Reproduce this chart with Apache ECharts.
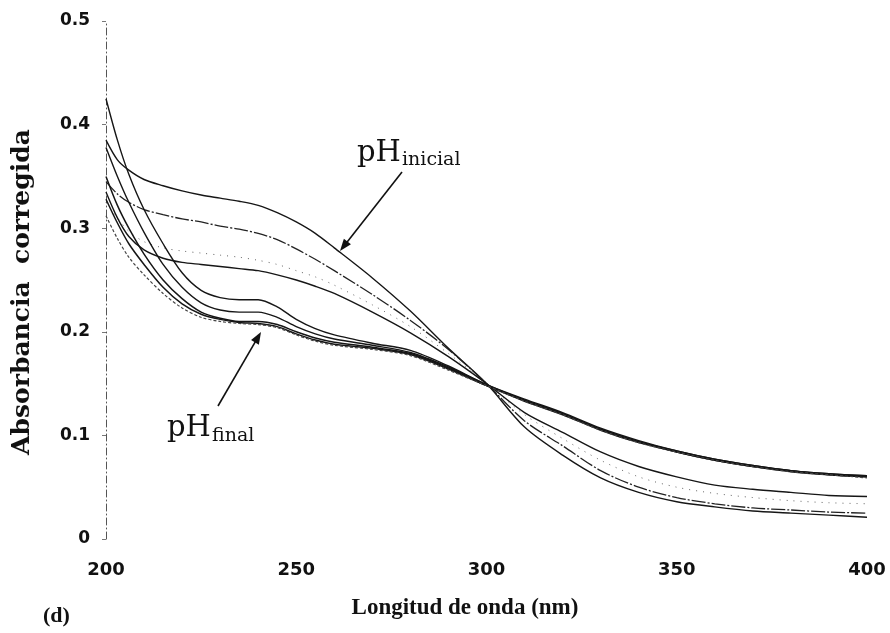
<!DOCTYPE html>
<html>
<head>
<meta charset="utf-8">
<script src="https://cdn.jsdelivr.net/npm/echarts@6/dist/echarts.min.js"></script>
<style>
html,body{margin:0;padding:0;background:#fff;}
#c{width:890px;height:633px;}
</style>
</head>
<body>
<div id="c"></div>
<script>
// Wavelength (nm)
var wavelengths = [200,203,206,210,215,220,225,230,235,240,245,250,255,260,270,280,290,300,310,320,330,340,350,360,370,380,390,400];
// Curves starting from initial pH (high plateau, low at 400 nm)
var inicial1 = [0.385,0.366,0.356,0.347,0.341,0.336,0.332,0.329,0.326,0.322,0.315,0.306,0.295,0.281,0.252,0.220,0.184,0.150,0.108,0.081,0.059,0.045,0.036,0.031,0.027,0.025,0.023,0.021];
var inicial2 = [0.345,0.333,0.325,0.318,0.313,0.309,0.306,0.302,0.299,0.295,0.289,0.280,0.270,0.259,0.236,0.211,0.183,0.150,0.114,0.090,0.066,0.050,0.040,0.034,0.030,0.028,0.026,0.025];
var inicial3 = [0.325,0.310,0.297,0.287,0.281,0.278,0.276,0.274,0.272,0.269,0.265,0.259,0.253,0.245,0.226,0.205,0.179,0.150,0.120,0.097,0.076,0.060,0.050,0.044,0.040,0.037,0.035,0.034];
var inicial4 = [0.335,0.310,0.292,0.279,0.271,0.267,0.265,0.263,0.261,0.259,0.255,0.250,0.244,0.237,0.219,0.199,0.176,0.150,0.122,0.103,0.084,0.070,0.060,0.052,0.048,0.045,0.042,0.041];
// Curves toward final pH (low plateau, high at 400 nm)
var final1 = [0.425,0.385,0.352,0.318,0.285,0.257,0.240,0.233,0.231,0.231,0.224,0.212,0.203,0.197,0.189,0.182,0.167,0.149,0.135,0.122,0.107,0.095,0.085,0.077,0.071,0.066,0.063,0.061];
var final2 = [0.378,0.350,0.325,0.296,0.265,0.243,0.228,0.221,0.219,0.219,0.214,0.205,0.198,0.193,0.187,0.180,0.166,0.149,0.134,0.121,0.106,0.094,0.084,0.076,0.070,0.066,0.062,0.060];
var final3 = [0.350,0.322,0.300,0.275,0.250,0.232,0.219,0.213,0.210,0.210,0.207,0.200,0.194,0.190,0.185,0.179,0.165,0.148,0.134,0.121,0.106,0.094,0.085,0.077,0.071,0.066,0.063,0.061];
var final4 = [0.328,0.305,0.285,0.265,0.243,0.227,0.217,0.212,0.209,0.208,0.205,0.198,0.192,0.188,0.184,0.178,0.164,0.148,0.133,0.120,0.105,0.093,0.084,0.076,0.070,0.065,0.062,0.060];
var final5 = [0.312,0.290,0.272,0.255,0.237,0.223,0.214,0.210,0.208,0.207,0.204,0.197,0.191,0.187,0.183,0.177,0.163,0.148,0.133,0.120,0.105,0.093,0.084,0.076,0.070,0.065,0.062,0.059];
// Tick labels
var xTicks = ['200','250','300','350','400'];
var yTicks = ['0','0.1','0.2','0.3','0.4','0.5'];

var curveDefs = [
  {name:'inicial1', data:inicial1, style:{color:'#161616', width:1.4, type:'solid'}},
  {name:'inicial2', data:inicial2, style:{color:'#222', width:1.3, type:[14,2,2,2]}},
  {name:'inicial3', data:inicial3, style:{color:'#666', width:1, type:[1,6]}},
  {name:'inicial4', data:inicial4, style:{color:'#161616', width:1.4, type:'solid'}},
  {name:'final1', data:final1, style:{color:'#161616', width:1.4, type:'solid'}},
  {name:'final2', data:final2, style:{color:'#161616', width:1.4, type:'solid'}},
  {name:'final3', data:final3, style:{color:'#161616', width:1.5, type:'solid'}},
  {name:'final4', data:final4, style:{color:'#161616', width:1.5, type:'solid'}},
  {name:'final5', data:final5, style:{color:'#444', width:1.2, type:[3,2]}}
];

function pairs(arr){
  return wavelengths.map(function(w,i){ return [w, arr[i]]; });
}

var series = curveDefs.map(function(c){
  return {
    name: c.name,
    type: 'line',
    data: pairs(c.data),
    smooth: 0.3,
    showSymbol: false,
    symbol: 'none',
    silent: true,
    animation: false,
    lineStyle: c.style
  };
});

function arrow(x1,y1,x2,y2){
  var dx = x2-x1, dy = y2-y1, L = Math.sqrt(dx*dx+dy*dy);
  var ux = dx/L, uy = dy/L, hl = 12, hw = 4.5;
  var bx = x2 - ux*hl, by = y2 - uy*hl;
  return [
    {type:'line', shape:{x1:x1,y1:y1,x2:bx+ux*2,y2:by+uy*2}, style:{stroke:'#111', lineWidth:1.6}},
    {type:'polygon', shape:{points:[[x2,y2],[bx - uy*hw, by + ux*hw],[bx + uy*hw, by - ux*hw]]}, style:{fill:'#111'}}
  ];
}

var chart = echarts.init(document.getElementById('c'), null, {renderer:'canvas'});
var graphics = [
  {type:'text', x:22, y:292, rotation:Math.PI/2, style:{text:'Absorbancia  corregida', font:'bold 25px "DejaVu Serif"', fill:'#111', align:'center', verticalAlign:'middle'}},
  {type:'text', x:465, y:608, style:{text:'Longitud de onda (nm)', font:'bold 23px "Liberation Serif"', fill:'#111', align:'center', verticalAlign:'middle'}},
  {type:'text', x:43, y:616, style:{text:'(d)', font:'bold 22px "Liberation Serif"', fill:'#111', align:'left', verticalAlign:'middle'}},
  {type:'text', x:357, y:153, style:{text:'pH', font:'29px "DejaVu Serif"', fill:'#111', align:'left', verticalAlign:'middle'}},
  {type:'text', x:402, y:160, style:{text:'inicial', font:'19px "DejaVu Serif"', fill:'#111', align:'left', verticalAlign:'middle'}},
  {type:'text', x:167, y:428, style:{text:'pH', font:'29px "DejaVu Serif"', fill:'#111', align:'left', verticalAlign:'middle'}},
  {type:'text', x:212, y:436, style:{text:'final', font:'19px "DejaVu Serif"', fill:'#111', align:'left', verticalAlign:'middle'}}
].concat(arrow(402,172,340,251)).concat(arrow(218,406,261,332));

chart.setOption({
  backgroundColor:'#fff',
  animation:false,
  grid:{left:106, right:23, top:21, bottom:94, containLabel:false},
  xAxis:{
    type:'value', min:200, max:400, interval:50,
    axisLine:{show:false},
    axisTick:{show:false},
    splitLine:{show:false},
    axisLabel:{
      margin:22,
      formatter:function(v){ var i = Math.round((v-200)/50); return xTicks[i]; },
      fontFamily:'DejaVu Sans', fontWeight:'bold', fontSize:18, color:'#111'
    }
  },
  yAxis:{
    type:'value', min:0, max:0.5, interval:0.1,
    axisLine:{show:true, lineStyle:{color:'#555', width:1, type:[7,3,1,3]}},
    axisTick:{show:true, length:4, lineStyle:{color:'#777'}},
    splitLine:{show:false},
    axisLabel:{
      margin:16,
      formatter:function(v){ return yTicks[Math.round(v*10)]; },
      fontFamily:'DejaVu Sans', fontWeight:'bold', fontSize:17, color:'#111'
    }
  },
  series: series,
  graphic: graphics
});
</script>
</body>
</html>
